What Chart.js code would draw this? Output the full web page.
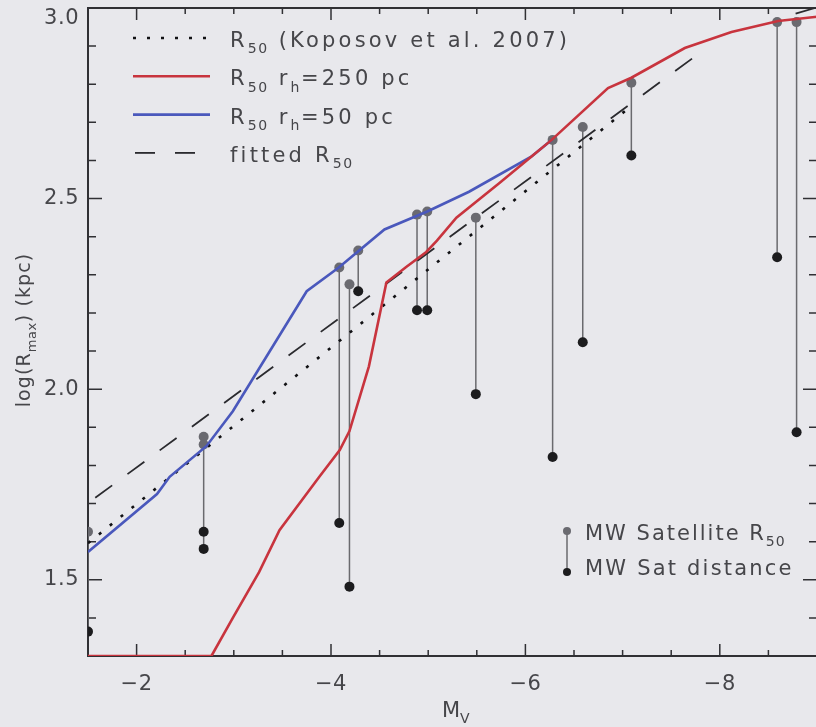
<!DOCTYPE html>
<html>
<head>
<meta charset="utf-8">
<script src="https://cdn.jsdelivr.net/npm/chart.js@4.4.1/dist/chart.umd.min.js"></script>
<style>
  html, body { margin: 0; padding: 0; background: #e8e8ec; overflow: hidden; }
  #wrap { width: 822px; height: 727px; }
</style>
</head>
<body>
<div id="wrap"><canvas id="rmaxChart" width="822" height="727"></canvas></div>
<script>
// Koposov et al. (2007) R50 relation
const koposovMv = [-1.5, -7.1];
const koposovLogR = [1.596, 2.745];

// fitted R50 (broken where it runs under the 250 pc curve)
const fittedMv = [-1.5, -7.82, -8.3, -8.78, -8.98];
const fittedLogR = [1.701, 2.887, null, 2.985, 3.0];

// R50 for r_h = 250 pc
const r250Mv = [-1.5, -2.77, -2.99, -3.26, -3.47, -3.88, -4.09, -4.19, -4.39, -4.57, -4.77, -4.98,
  -5.09, -5.29, -5.73, -6.06, -6.27, -6.85, -7.09, -7.64, -8.12, -8.6, -9.0];
const r250LogR = [1.3, 1.3, 1.40, 1.52, 1.63, 1.77, 1.84, 1.89, 2.06, 2.28, 2.32, 2.36,
  2.39, 2.45, 2.54, 2.61, 2.654, 2.79, 2.817, 2.895, 2.937, 2.966, 2.977];

// R50 for r_h = 50 pc
const r50Mv = [-1.5, -2.21, -2.34, -2.72, -2.99, -3.75, -4.08, -4.55, -4.99, -5.42, -6.06, -6.27];
const r50LogR = [1.573, 1.725, 1.770, 1.851, 1.942, 2.257, 2.319, 2.419, 2.466, 2.518, 2.610, 2.654];

// Milky Way satellites: magnitude, R50 and actual distance
const satMv = [-1.5, -2.69, -2.69, -4.085, -4.19, -4.28, -4.885, -4.99, -5.49, -6.28, -6.59, -7.09, -8.59, -8.79];
const satR50 = [1.626, 1.875, 1.855, 2.319, 2.275, 2.364, 2.458, 2.466, 2.450, 2.654, 2.688, 2.804, 2.963, 2.963];
const satDist = [1.364, 1.626, 1.581, 1.649, 1.482, 2.257, 2.207, 2.207, 1.987, 1.822, 2.123, 2.613, 2.346, 1.887];

const xTicks = [-2, -4, -6, -8];
const yTicks = [1.5, 2.0, 2.5, 3.0];

const FONT = '"DejaVu Sans", sans-serif';
const INK = '#46464a';
const GREY_PT = '#6a6a70';
const BLACK_PT = '#1c1c1e';

const pts = (xs, ys) => xs.map((x, i) => ({ x, y: ys[i] }));

// stems: upper point, lower point, then a break
const satData = [];
const satColors = [];
satMv.forEach((mv, i) => {
  satData.push({ x: mv, y: satR50[i] }, { x: mv, y: satDist[i] }, { x: mv, y: null });
  satColors.push(GREY_PT, BLACK_PT, 'rgba(0,0,0,0)');
});

function setFont(ctx, size, sub, spacing) {
  ctx.font = `${sub ? Math.round(size * 0.66) : size}px ${FONT}`;
  ctx.letterSpacing = `${sub ? spacing * 0.5 : spacing}px`;
}

function richWidth(ctx, parts, size, spacing = 0) {
  let w = 0;
  for (const [txt, kind] of parts) {
    setFont(ctx, size, kind === 'sub', spacing);
    w += ctx.measureText(txt).width;
  }
  return w;
}

function drawRich(ctx, x, y, parts, size, spacing = 0) {
  let cx = x;
  for (const [txt, kind] of parts) {
    const sub = kind === 'sub';
    setFont(ctx, size, sub, spacing);
    ctx.fillText(txt, cx, sub ? y + size * 0.3 : y);
    cx += ctx.measureText(txt).width;
  }
  ctx.letterSpacing = '0px';
  return cx;
}

const legendRows = [
  { ds: 0, parts: [['R'], ['50', 'sub'], [' (Koposov et al. 2007)']] },
  { ds: 2, parts: [['R'], ['50', 'sub'], [' r'], ['h', 'sub'], ['=250 pc']] },
  { ds: 3, parts: [['R'], ['50', 'sub'], [' r'], ['h', 'sub'], ['=50 pc']] },
  { ds: 1, parts: [['fitted R'], ['50', 'sub']] }
];

const framePlugin = {
  id: 'idlFrame',
  beforeDatasetsDraw(chart) {
    const { ctx, chartArea: a, scales: { x, y } } = chart;
    ctx.save();
    ctx.strokeStyle = '#303034';
    ctx.lineWidth = 2;
    ctx.strokeRect(a.left, a.top, a.right - a.left, a.bottom - a.top);
    ctx.lineWidth = 1.5;
    ctx.beginPath();
    for (let v = -2; v >= -8.5; v -= 0.5) {
      const px = x.getPixelForValue(v);
      const len = v % 2 === 0 ? 12 : 6;
      ctx.moveTo(px, a.bottom); ctx.lineTo(px, a.bottom - len);
      ctx.moveTo(px, a.top); ctx.lineTo(px, a.top + len);
    }
    for (let k = 14; k <= 29; k++) {
      const py = y.getPixelForValue(k / 10);
      const len = k % 5 === 0 ? 14 : 8;
      ctx.moveTo(a.left, py); ctx.lineTo(a.left + len, py);
      ctx.moveTo(a.right, py); ctx.lineTo(a.right - len, py);
    }
    ctx.stroke();

    ctx.fillStyle = INK;
    ctx.font = `21px ${FONT}`;
    ctx.textBaseline = 'middle';
    ctx.textAlign = 'right';
    ctx.letterSpacing = '0.5px';
    yTicks.forEach(v => {
      const py = Math.max(y.getPixelForValue(v), 19);
      ctx.fillText(v.toFixed(1), 79, py);
    });
    ctx.textAlign = 'center';
    ctx.textBaseline = 'alphabetic';
    xTicks.forEach(v => {
      ctx.fillText('\u2212' + Math.abs(v), x.getPixelForValue(v), 690);
    });

    // axis titles
    ctx.textAlign = 'left';
    drawRich(ctx, 442, 717, [['M'], ['V', 'sub']], 21);
    const yTitle = [['log(R'], ['max', 'sub'], [') (kpc)']];
    ctx.save();
    ctx.translate(30, 330);
    ctx.rotate(-Math.PI / 2);
    drawRich(ctx, -richWidth(ctx, yTitle, 19, 1.1) / 2, 0, yTitle, 19, 1.1);
    ctx.restore();
    ctx.restore();
  },
  afterDatasetsDraw(chart) {
    const { ctx } = chart;
    ctx.save();
    ctx.fillStyle = INK;
    ctx.textAlign = 'left';
    ctx.textBaseline = 'alphabetic';
    legendRows.forEach((row, i) => {
      const ds = chart.data.datasets[row.ds];
      const base = 47 + i * 38.3;
      const ly = base - 9;
      ctx.save();
      ctx.strokeStyle = ds.borderColor;
      ctx.lineWidth = ds.borderWidth;
      ctx.setLineDash(row.ds === 1 ? [20, 20] : (ds.borderDash || []));
      ctx.beginPath();
      ctx.moveTo(row.ds === 1 ? 135 : 133, ly);
      ctx.lineTo(row.ds === 1 ? 196 : 210, ly);
      ctx.stroke();
      ctx.restore();
      drawRich(ctx, 230, base, row.parts, 21, 3.2);
    });

    // satellite key
    ctx.strokeStyle = '#6a6a6e';
    ctx.lineWidth = 1.5;
    ctx.beginPath();
    ctx.moveTo(567, 531); ctx.lineTo(567, 572);
    ctx.stroke();
    [[531, GREY_PT], [572, BLACK_PT]].forEach(([py, c]) => {
      ctx.fillStyle = c;
      ctx.beginPath();
      ctx.arc(567, py, 4, 0, Math.PI * 2);
      ctx.fill();
    });
    ctx.fillStyle = INK;
    drawRich(ctx, 585, 540, [['MW Satellite R'], ['50', 'sub']], 21, 2);
    drawRich(ctx, 585, 575, [['MW Sat distance']], 21, 2.2);
    ctx.restore();
  }
};

new Chart(document.getElementById('rmaxChart'), {
  type: 'line',
  data: {
    datasets: [
      {
        label: 'R50 (Koposov et al. 2007)',
        data: pts(koposovMv, koposovLogR),
        borderColor: '#111114',
        borderWidth: 2.6,
        borderDash: [3, 11],
        pointRadius: 0,
        order: 1
      },
      {
        label: 'fitted R50',
        data: pts(fittedMv, fittedLogR),
        borderColor: '#2a2a2e',
        borderWidth: 1.8,
        borderDash: [21, 19],
        borderDashOffset: 31,
        pointRadius: 0,
        spanGaps: false,
        segment: {
          // the short piece at the top edge is a single dash
          borderDash: c => (c.p0DataIndex >= 3 ? [] : undefined)
        },
        order: 1
      },
      {
        label: 'R50 rh=250 pc',
        data: pts(r250Mv, r250LogR),
        borderColor: '#c8343e',
        borderWidth: 2.6,
        pointRadius: 0,
        order: 0
      },
      {
        label: 'R50 rh=50 pc',
        data: pts(r50Mv, r50LogR),
        borderColor: '#4a58bc',
        borderWidth: 2.6,
        pointRadius: 0,
        order: 0
      },
      {
        label: 'MW satellites',
        data: satData,
        borderColor: '#6a6a6e',
        borderWidth: 1.5,
        pointRadius: 5,
        pointBorderWidth: 0,
        pointBackgroundColor: satColors,
        pointBorderColor: satColors,
        spanGaps: false,
        clip: 0,
        order: 5
      }
    ]
  },
  plugins: [framePlugin],
  options: {
    responsive: false,
    animation: false,
    events: [],
    layout: { padding: { left: 88, top: 8, right: 2.5, bottom: 71 } },
    plugins: { legend: { display: false }, tooltip: { enabled: false } },
    scales: {
      x: { type: 'linear', min: -9.0, max: -1.5, reverse: true, display: false },
      y: { type: 'linear', min: 1.3, max: 3.0, display: false }
    }
  }
});
</script>
</body>
</html>
